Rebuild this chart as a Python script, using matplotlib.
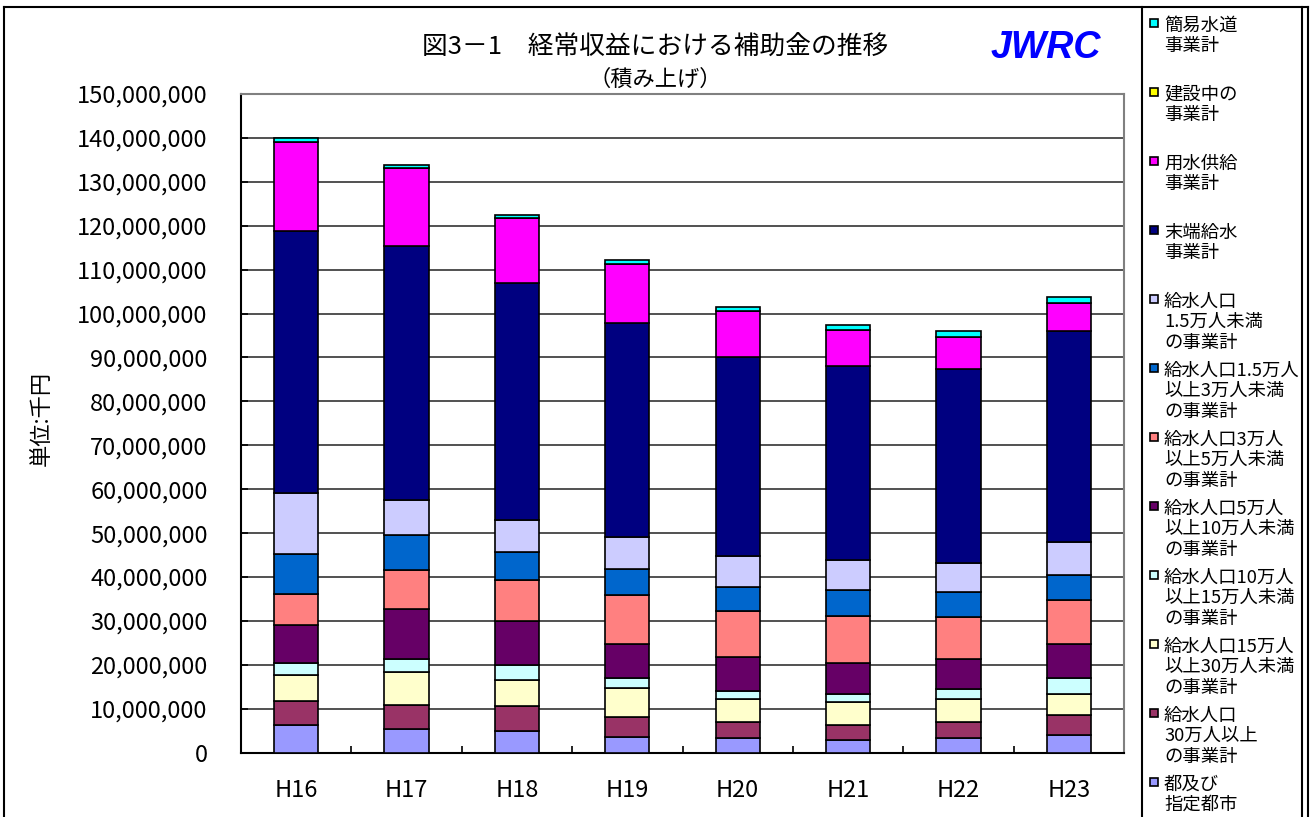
import matplotlib
matplotlib.use("Agg")
import matplotlib.pyplot as plt
from matplotlib.patches import Rectangle
from matplotlib.lines import Line2D
from matplotlib.ticker import FuncFormatter, FixedLocator
import numpy as np

plt.rcParams["font.family"] = ["Noto Sans CJK JP", "DejaVu Sans"]

# --------------------------------------------------
# データ (単位: 千円)
# --------------------------------------------------

nendo = ["H16", "H17", "H18", "H19", "H20", "H21", "H22", "H23"]

# 積み上げ順 (下から)
toshi = [6400000, 5300000, 5000000, 3600000, 3300000, 2900000, 3300000, 4000000]
kyu_30man = [5300000, 5600000, 5700000, 4600000, 3700000, 3400000, 3700000, 4600000]
kyu_15_30 = [6100000, 7400000, 5900000, 6600000, 5300000, 5300000, 5300000, 4700000]
kyu_10_15 = [2600000, 3100000, 3400000, 2300000, 1800000, 1700000, 2200000, 3800000]
kyu_5_10 = [8700000, 11400000, 9900000, 7600000, 7600000, 7200000, 6800000, 7600000]
kyu_3_5 = [7100000, 8900000, 9400000, 11300000, 10500000, 10600000, 9600000, 10000000]
kyu_15_3 = [9000000, 7900000, 6300000, 5900000, 5500000, 5900000, 5800000, 5700000]
kyu_15man_miman = [14000000, 8000000, 7500000, 7200000, 7200000, 6800000, 6600000, 7600000]
mattan = [59700000, 57900000, 53800000, 48800000, 45100000, 44300000, 44000000, 48100000]
yosui = [20100000, 17600000, 14900000, 13300000, 10500000, 8200000, 7400000, 6200000]
kensetsu = [50000, 50000, 50000, 50000, 50000, 50000, 50000, 50000]
kani = [950000, 750000, 650000, 1050000, 1050000, 1050000, 1350000, 1450000]

seriler = [
    toshi, kyu_30man, kyu_15_30, kyu_10_15, kyu_5_10, kyu_3_5,
    kyu_15_3, kyu_15man_miman, mattan, yosui, kensetsu, kani,
]

etiketler = [
    "都及び\n指定都市",
    "給水人口\n30万人以上\nの事業計",
    "給水人口15万人\n以上30万人未満\nの事業計",
    "給水人口10万人\n以上15万人未満\nの事業計",
    "給水人口5万人\n以上10万人未満\nの事業計",
    "給水人口3万人\n以上5万人未満\nの事業計",
    "給水人口1.5万人\n以上3万人未満\nの事業計",
    "給水人口\n1.5万人未満\nの事業計",
    "末端給水\n事業計",
    "用水供給\n事業計",
    "建設中の\n事業計",
    "簡易水道\n事業計",
]

renkler = [
    "#9999FF", "#993366", "#FFFFCC", "#CCFFFF", "#660066", "#FF8080",
    "#0066CC", "#CCCCFF", "#000080", "#FF00FF", "#FFFF00", "#00FFFF",
]

# --------------------------------------------------
# 図
# --------------------------------------------------

W, H = 1312, 817
fig = plt.figure(figsize=(W / 100, H / 100), dpi=100)


def fx(px):
    return px / W


def fy(py):
    return 1 - py / H


ax = fig.add_axes([fx(241), fy(752.7), fx(1124) - fx(241), fy(94) - fy(752.7)])

x = np.arange(len(nendo))
alt = np.zeros(len(nendo))
for deger, renk in zip(seriler, renkler):
    ax.bar(x, deger, bottom=alt, width=0.40, color=renk,
           edgecolor="black", linewidth=1.2, zorder=3)
    alt += np.array(deger)

ax.set_xlim(-0.5, len(nendo) - 0.5)
ax.set_ylim(0, 150000000)
ax.set_yticks(np.arange(0, 150000001, 10000000))
ax.yaxis.set_major_formatter(FuncFormatter(lambda v, p: f"{int(v):,}"))
ax.grid(axis="y", color="#222222", linewidth=1.1, zorder=0)
ax.set_axisbelow(True)

ax.xaxis.set_major_locator(FixedLocator(np.arange(-0.5, len(nendo), 1.0)))
ax.xaxis.set_major_formatter(FuncFormatter(lambda v, p: ""))
ax.xaxis.set_minor_locator(FixedLocator(x))
ax.set_xticklabels(nendo, minor=True)

ax.tick_params(axis="x", which="major", direction="in", length=5, width=1.2)
ax.tick_params(axis="x", which="minor", length=0, pad=19, labelsize=17)
ax.tick_params(axis="y", direction="in", length=5, width=1.2, pad=24, labelsize=17)

for s in ["left", "bottom"]:
    ax.spines[s].set_color("black")
    ax.spines[s].set_linewidth(1.5)
for s in ["top", "right"]:
    ax.spines[s].set_color("#808080")
    ax.spines[s].set_linewidth(1.5)

# --------------------------------------------------
# 文字
# --------------------------------------------------

fig.text(fx(655), fy(48), "図3－1　経常収益における補助金の推移",
         ha="center", va="center", fontsize=18.5)
fig.text(fx(655), fy(79), "（積み上げ）", ha="center", va="center", fontsize=16)
fig.text(fx(1046), fy(48), "JWRC", ha="center", va="center", fontsize=27,
         color="#0000FF", fontweight="bold", fontstyle="italic",
         family="Liberation Sans")
fig.text(fx(41), fy(418), "単位:千円", rotation=90, ha="center", va="center",
         fontsize=16)

# --------------------------------------------------
# 凡例 (上から)
# --------------------------------------------------

for i, (etiket, renk) in enumerate(zip(etiketler[::-1], renkler[::-1])):
    yc = 24 + i * 69
    fig.add_artist(Rectangle((fx(1149.5), fy(yc + 3)), fx(8), 8 / H,
                             facecolor=renk, edgecolor="black", linewidth=1.2,
                             transform=fig.transFigure))
    fig.text(fx(1164), fy(yc - 7.5), etiket, ha="left", va="top",
             fontsize=13.2, linespacing=1.18)

# --------------------------------------------------
# 枠
# --------------------------------------------------

for xs, ys in [
    ([4, 4], [7, 830]),
    ([4, 1308], [7, 7]),
    ([1308, 1308], [7, 830]),
    ([1142, 1142], [7, 830]),
    ([1302, 1302], [7, 830]),
]:
    fig.add_artist(Line2D([fx(v) for v in xs], [fy(v) for v in ys],
                          color="black", linewidth=1.5,
                          transform=fig.transFigure))

fig.savefig("out.png", dpi=100)
